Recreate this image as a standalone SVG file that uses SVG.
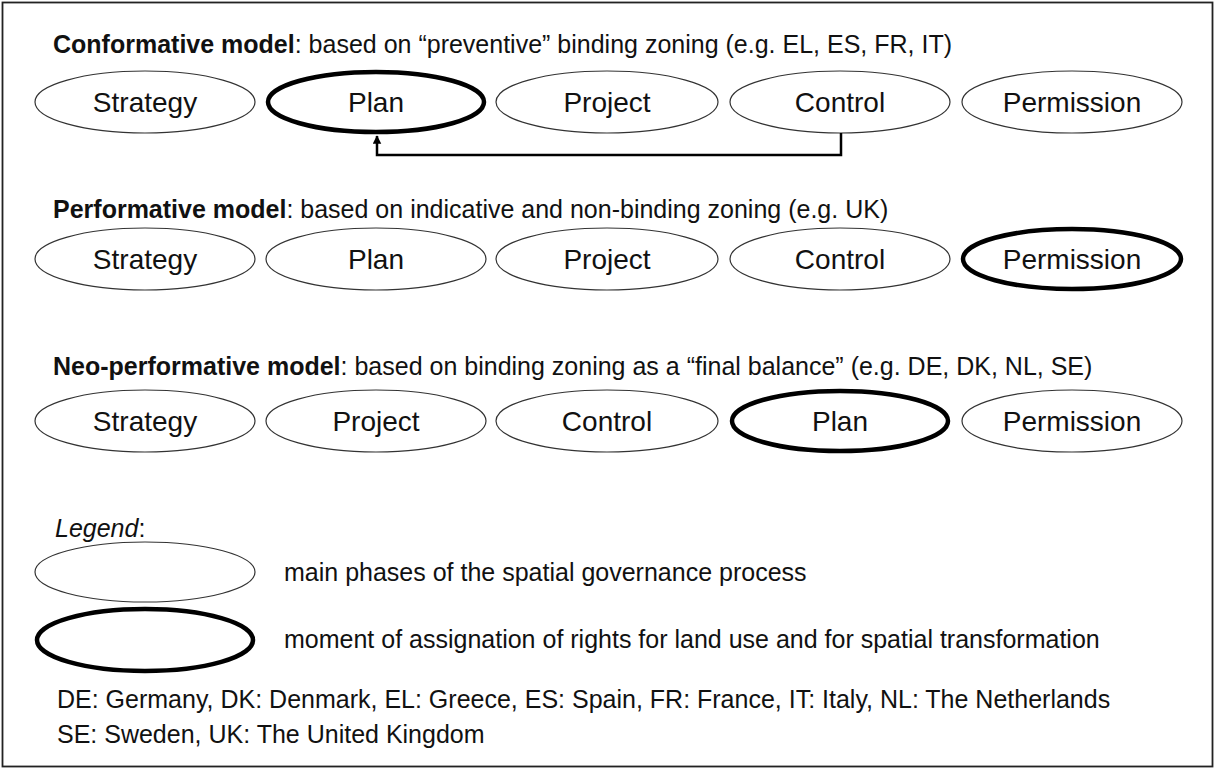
<svg xmlns="http://www.w3.org/2000/svg" width="1216" height="769" viewBox="0 0 1216 769">
<style>
.t{font-family:"Liberation Sans",Arial,sans-serif;font-size:25px;fill:#111}
.b{font-weight:bold}
.lbl{font-family:"Liberation Sans",Arial,sans-serif;font-size:28px;fill:#111;text-anchor:middle}
.thin{fill:#fff;stroke:#333;stroke-width:1.2}
.thick{fill:#fff;stroke:#000;stroke-width:4.5}
.conn{fill:none;stroke:#000;stroke-width:2.5}
</style>
<defs>
<marker id="ah" viewBox="0 0 10 10" refX="9" refY="5" markerWidth="3.4" markerHeight="3.6" markerUnits="strokeWidth" orient="auto">
<path d="M0,0 L10,5 L0,10 z" fill="#000"/>
</marker>
</defs>
<rect x="2.5" y="2.5" width="1210" height="764" fill="#fff" stroke="#222" stroke-width="1.8"/>

<g id="title1"><text class="t" x="53" y="53"><tspan class="b">Conformative model</tspan>: based on “preventive” binding zoning (e.g. EL, ES, FR, IT)</text></g>
<g id="r1-strategy"><ellipse class="thin" cx="145" cy="102" rx="110" ry="31"/><text class="lbl" x="145" y="112">Strategy</text></g>
<g id="r1-plan"><ellipse class="thick" cx="376" cy="102" rx="108" ry="30"/><text class="lbl" x="376" y="112">Plan</text></g>
<g id="r1-project"><ellipse class="thin" cx="607" cy="102" rx="111" ry="31"/><text class="lbl" x="607" y="112">Project</text></g>
<g id="r1-control"><ellipse class="thin" cx="840" cy="102" rx="110" ry="31"/><text class="lbl" x="840" y="112">Control</text></g>
<g id="r1-permission"><ellipse class="thin" cx="1072" cy="102" rx="110" ry="31"/><text class="lbl" x="1072" y="112">Permission</text></g>

<g id="connectors"><path class="conn" d="M841,133 V155 H377 V136" marker-end="url(#ah)"/></g>

<g id="title2"><text class="t" x="53" y="218"><tspan class="b">Performative model</tspan>: based on indicative and non-binding zoning (e.g. UK)</text></g>
<g id="r2-strategy"><ellipse class="thin" cx="145" cy="259" rx="110" ry="31"/><text class="lbl" x="145" y="269">Strategy</text></g>
<g id="r2-plan"><ellipse class="thin" cx="376" cy="259" rx="110" ry="31"/><text class="lbl" x="376" y="269">Plan</text></g>
<g id="r2-project"><ellipse class="thin" cx="607" cy="259" rx="111" ry="31"/><text class="lbl" x="607" y="269">Project</text></g>
<g id="r2-control"><ellipse class="thin" cx="840" cy="259" rx="110" ry="31"/><text class="lbl" x="840" y="269">Control</text></g>
<g id="r2-permission"><ellipse class="thick" cx="1072" cy="259" rx="109" ry="30"/><text class="lbl" x="1072" y="269">Permission</text></g>

<g id="title3"><text class="t" x="53" y="375"><tspan class="b">Neo-performative model</tspan>: based on binding zoning as a “final balance” (e.g. DE, DK, NL, SE)</text></g>
<g id="r3-strategy"><ellipse class="thin" cx="145" cy="421" rx="110" ry="31"/><text class="lbl" x="145" y="431">Strategy</text></g>
<g id="r3-project"><ellipse class="thin" cx="376" cy="421" rx="110" ry="31"/><text class="lbl" x="376" y="431">Project</text></g>
<g id="r3-control"><ellipse class="thin" cx="607" cy="421" rx="111" ry="31"/><text class="lbl" x="607" y="431">Control</text></g>
<g id="r3-plan"><ellipse class="thick" cx="840" cy="421" rx="108" ry="30"/><text class="lbl" x="840" y="431">Plan</text></g>
<g id="r3-permission"><ellipse class="thin" cx="1072" cy="421" rx="110" ry="31"/><text class="lbl" x="1072" y="431">Permission</text></g>

<g id="legend">
<text class="t" x="55" y="537"><tspan font-style="italic">Legend</tspan>:</text>
<ellipse class="thin" cx="145" cy="572" rx="110" ry="30"/>
<text class="t" x="284" y="581">main phases of the spatial governance process</text>
<ellipse class="thick" cx="145" cy="640" rx="108" ry="31"/>
<text class="t" x="284" y="648">moment of assignation of rights for land use and for spatial transformation</text>
<text class="t" x="57" y="708">DE: Germany, DK: Denmark, EL: Greece, ES: Spain, FR: France, IT: Italy, NL: The Netherlands</text>
<text class="t" x="57" y="743">SE: Sweden, UK: The United Kingdom</text>
</g>
</svg>
